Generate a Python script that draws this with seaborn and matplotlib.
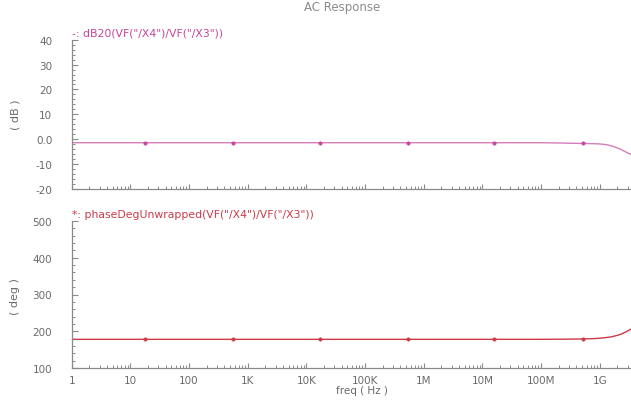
import matplotlib
matplotlib.use("Agg")
import matplotlib.pyplot as plt
import matplotlib.ticker as mticker
import seaborn as sns
import pandas as pd

# frequency sweep points (Hz)
freq = [1, 1e3, 1e6, 1e8, 2e8, 3e8, 5e8, 8e8, 1e9, 1.3e9, 1.6e9, 2e9, 2.3e9, 2.6e9, 3e9, 3.4e9]
mag_db = [-1.4, -1.4, -1.4, -1.4, -1.5, -1.6, -1.7, -1.8, -1.9, -2.2, -2.7, -3.5, -4.1, -4.8, -5.5, -6.2]
phase_deg = [178, 178, 178, 178, 178.3, 178.6, 179, 180, 181, 183, 185, 189, 192, 196, 201, 206]

# marker positions drawn by the simulator
marker_freq = [17.7, 560, 17e3, 537e3, 15.6e6, 513e6]
marker_db = [-1.4, -1.4, -1.4, -1.4, -1.4, -1.7]
marker_deg = [178, 178, 178, 178, 178, 179]

tick_vals = [1, 10, 100, 1e3, 1e4, 1e5, 1e6, 1e7, 1e8, 1e9]
tick_labels = ["1", "10", "100", "1K", "10K", "100K", "1M", "10M", "100M", "1G"]

MAG_COLOR = "#c8449c"
MAG_LINE = "#d77cb8"
PH_COLOR = "#cc3a48"
GREY = "#6a6a6a"
AXC = "#8a8a8a"

sns.set_style("white")
plt.rcParams["font.family"] = ["DejaVu Sans"]

fig = plt.figure(figsize=(6.31, 4.02), dpi=100)
W, H = 631, 402
x0 = 71.7 / W
ax1 = fig.add_axes([x0, 1 - 190 / H, 1 - x0, (190 - 40.7) / H])
ax2 = fig.add_axes([x0, 1 - 369 / H, 1 - x0, (369 - 222) / H])

curve = pd.DataFrame({"freq": freq, "db": mag_db, "deg": phase_deg})
marks = pd.DataFrame({"freq": marker_freq, "db": marker_db, "deg": marker_deg})

sns.lineplot(data=curve, x="freq", y="db", ax=ax1, color=MAG_LINE, linewidth=1.0)
sns.scatterplot(data=marks, x="freq", y="db", ax=ax1, color=MAG_COLOR, s=6,
                marker="o", edgecolor=MAG_COLOR, linewidth=0.4, zorder=3)
sns.lineplot(data=curve, x="freq", y="deg", ax=ax2, color=PH_COLOR, linewidth=1.0)
sns.scatterplot(data=marks, x="freq", y="deg", ax=ax2, color=PH_COLOR, s=6,
                marker="o", edgecolor=PH_COLOR, linewidth=0.4, zorder=3)

ax1.set_ylim(-20, 40)
ax1.set_yticks([-20, -10, 0, 10, 20, 30, 40])
ax1.set_yticklabels(["-20", "-10", "0.0", "10", "20", "30", "40"])
ax1.yaxis.set_minor_locator(mticker.MultipleLocator(2))

ax2.set_ylim(100, 500)
ax2.set_yticks([100, 200, 300, 400, 500])
ax2.yaxis.set_minor_locator(mticker.MultipleLocator(20))

for ax in (ax1, ax2):
    ax.set_xscale("log")
    ax.set_xlim(1, 3.4e9)
    ax.set_xticks(tick_vals)
    ax.xaxis.set_minor_locator(mticker.LogLocator(base=10, subs=range(2, 10), numticks=20))
    ax.xaxis.set_minor_formatter(mticker.NullFormatter())
    ax.set_xlabel("")
    ax.set_ylabel("")
    for side in ("top", "right"):
        ax.spines[side].set_visible(False)
    for side in ("left", "bottom"):
        ax.spines[side].set_color(AXC)
        ax.spines[side].set_linewidth(0.9)
    ax.tick_params(which="both", bottom=True, left=True, top=False, right=False)
    ax.tick_params(which="major", direction="in", length=4, width=0.8, color=AXC,
                   labelsize=7.5, labelcolor=GREY)
    ax.tick_params(which="minor", direction="in", length=2.5, width=0.7, color=AXC)
    ax.tick_params(axis="x", which="major", length=3.5, pad=5)
    ax.tick_params(axis="y", which="major", pad=14)

ax1.set_xticklabels([])
ax2.set_xticklabels(tick_labels)

fig.text(342 / W, 1 - 8 / H, "AC Response", ha="center", va="center", fontsize=8.5, color="#8c8c8c")
fig.text(72 / W, 1 - 33 / H, "-: dB20(VF(\"/X4\")/VF(\"/X3\"))", ha="left", va="center",
         fontsize=7.8, color=MAG_COLOR)
fig.text(72 / W, 1 - 215 / H, "*: phaseDegUnwrapped(VF(\"/X4\")/VF(\"/X3\"))", ha="left", va="center",
         fontsize=7.8, color=PH_COLOR)
fig.text(15 / W, 1 - 115 / H, "( dB )", rotation=90, ha="center", va="center", fontsize=8, color=GREY)
fig.text(15 / W, 1 - 297 / H, "( deg )", rotation=90, ha="center", va="center", fontsize=8, color=GREY)
fig.text(362 / W, 1 - 391 / H, "freq ( Hz )", ha="center", va="center", fontsize=7.5, color=GREY)

fig.savefig("out.png", dpi=100)
